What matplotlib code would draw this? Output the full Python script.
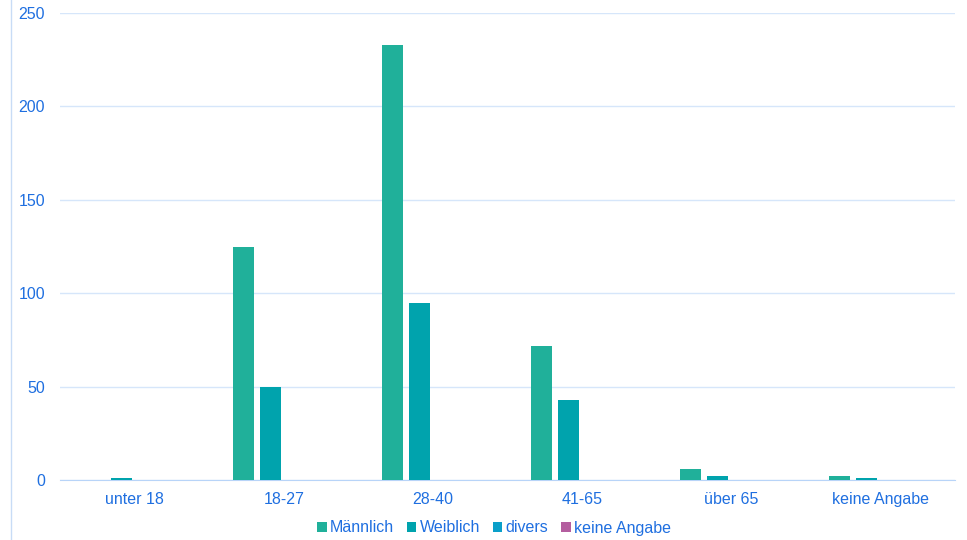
import numpy as np
import matplotlib.pyplot as plt
from matplotlib.lines import Line2D

plt.rcParams['font.family'] = ['Liberation Sans', 'DejaVu Sans']

categories = ['unter 18', '18-27', '28-40', '41-65', 'über 65', 'keine Angabe']
maennlich = [0, 125, 233, 72, 6, 2]
weiblich = [1, 50, 95, 43, 2, 1]
divers = [0, 0, 0, 0, 0, 0]
keine_angabe = [0, 0, 0, 0, 0, 0]

series = [
    ('Männlich', maennlich, '#20b09a'),
    ('Weiblich', weiblich, '#00a3ad'),
    ('divers', divers, '#0a9fc9'),
    ('keine Angabe', keine_angabe, '#b45e9f'),
]

text_color = '#1f6fe0'
grid_color = '#d6e6fa'

fig = plt.figure(figsize=(9.67, 5.40), dpi=100)
ax = fig.add_axes([60 / 967, 1 - 480 / 540, 895 / 967, 467 / 540])

x = np.arange(len(categories))
width = 0.141
step = 0.181
for i, (name, vals, color) in enumerate(series):
    ax.bar(x + (i - 1.5) * step, vals, width, color=color, label=name, zorder=3)

ax.set_xlim(-0.5, len(categories) - 0.5)
ax.set_ylim(0, 250)
ax.set_yticks(range(0, 251, 50))
ax.set_xticks(x)
ax.set_xticklabels(categories)
ax.yaxis.grid(True, color=grid_color, linewidth=1, zorder=0)
ax.set_axisbelow(True)
for s in ['top', 'right', 'left']:
    ax.spines[s].set_visible(False)
ax.spines['bottom'].set_color('#b8d4f8')
ax.tick_params(axis='both', length=0, labelsize=11.5, labelcolor=text_color)
ax.tick_params(axis='y', pad=10.8)
ax.tick_params(axis='x', pad=8.5)

fig.add_artist(Line2D([11 / 967, 11 / 967], [0, 1], color='#c8dcf6', linewidth=1))

leg = fig.legend(loc='center', bbox_to_anchor=(494 / 967, 1 - 528 / 540), ncol=4,
                 frameon=False, fontsize=11.5, handlelength=0.6, handleheight=0.6,
                 handletextpad=0.2, columnspacing=0.8)
for t in leg.get_texts():
    t.set_color(text_color)

fig.savefig('out.png', dpi=100)
